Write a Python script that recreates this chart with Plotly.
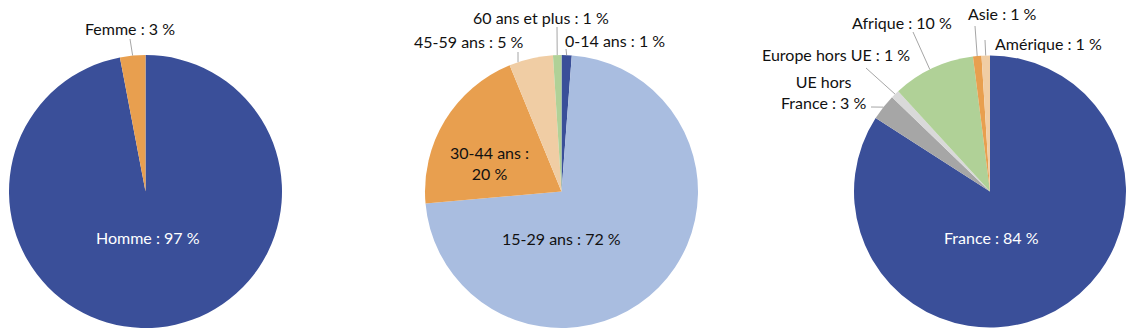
import math
import plotly.graph_objects as go

W, H = 1134, 336

# ---- data ----
sexe_labels = ["Homme", "Femme"]
sexe_values = [97.0, 3.0]

age_labels = ["0-14 ans", "15-29 ans", "30-44 ans", "45-59 ans", "60 ans et plus"]
age_values = [1.2, 72.4, 20.2, 5.2, 1.0]

orig_labels = ["France", "UE hors France", "Europe hors UE", "Afrique", "Asie", "Amérique"]
orig_values = [84.1, 3.1, 1.0, 9.8, 1.0, 1.0]

# ---- styles ----
BLUE = "#3A4F99"
LBLUE = "#A9BDE0"
ORANGE = "#E89F4F"
PEACH = "#F0CDA4"
GREEN = "#B0D197"
GRAY = "#A6A6A6"
LGRAY = "#D9D9D9"
FONT = "Lato"
FSIZE = 16

sexe_colors = [BLUE, ORANGE]
age_colors = [BLUE, LBLUE, ORANGE, PEACH, GREEN]
orig_colors = [BLUE, GRAY, LGRAY, GREEN, ORANGE, PEACH]

# pie geometry in pixels: (cx, cy, r)
pies = [
    (145.5, 191.5, 136.5),
    (561.5, 191.5, 136.5),
    (990.0, 191.5, 136.0),
]

def px(x):
    return x / W

def py(y):
    return 1 - y / H

fig = go.Figure()
datasets = [
    (sexe_labels, sexe_values, sexe_colors),
    (age_labels, age_values, age_colors),
    (orig_labels, orig_values, orig_colors),
]
for (labels, values, colors), (cx, cy, r) in zip(datasets, pies):
    fig.add_trace(go.Pie(
        labels=labels, values=values, sort=False, direction="clockwise",
        rotation=0, textinfo="none", hoverinfo="label+percent",
        marker=dict(colors=colors, line=dict(width=0)),
        domain=dict(x=[px(cx - r), px(cx + r)], y=[py(cy + r), py(cy - r)]),
        showlegend=False,
    ))

def edge_point(values, idx, frac, cx, cy, r):
    tot = sum(values)
    start = sum(values[:idx]) / tot
    f = start + frac * values[idx] / tot
    a = 2 * math.pi * f
    return cx + r * math.sin(a), cy - r * math.cos(a)

annotations = []
shapes = []

# label specs: (dataset, slice, text x, text y, colour, leader start, frac in slice, custom text)
specs = [
    (0, 0, 148, 237, "white", None, 0.5, None),
    (0, 1, 130, 28, "#111111", (130, 39), 0.5, None),
    (1, 1, 561, 238, "#111111", None, 0.5, None),
    (1, 2, 489, 163, "#111111", None, 0.5, "brk"),
    (1, 3, 469, 41, "#111111", (518, 52), 0.2, None),
    (1, 4, 541, 17, "#111111", (557, 27), 0.5, None),
    (1, 0, 615, 40, "#111111", (566, 49), 0.5, None),
    (2, 0, 991, 237, "white", None, 0.5, None),
    (2, 1, 823, 92, "#111111", (871, 107), 0.5, "UE hors<br>France : 3 %"),
    (2, 2, 836, 55, "#111111", (866, 68), 0.5, None),
    (2, 3, 902, 23, "#111111", (913, 32), 0.46, None),
    (2, 4, 1002, 14, "#111111", (975, 26), 0.5, None),
    (2, 5, 1048, 43, "#111111", (985, 40), 0.5, None),
]

for di, si, tx, ty, col, lstart, frac, custom in specs:
    labels, values, _ = datasets[di]
    cx, cy, r = pies[di]
    if custom == "brk":
        txt = f"{labels[si]} :<br>{round(values[si])} %"
    elif custom:
        txt = custom
    else:
        txt = f"{labels[si]} : {round(values[si])} %"
    annotations.append(dict(
        x=px(tx), y=py(ty), xref="paper", yref="paper", text=txt,
        showarrow=False, xanchor="center", yanchor="middle",
        font=dict(family=FONT, size=FSIZE, color=col), align="center",
    ))
    if lstart is not None:
        ex, ey = edge_point(values, si, frac, cx, cy, r)
        shapes.append(dict(
            type="line", xref="paper", yref="paper",
            x0=px(lstart[0]), y0=py(lstart[1]), x1=px(ex), y1=py(ey),
            line=dict(color="#A6A6A6", width=1),
        ))

fig.update_layout(
    width=W, height=H, margin=dict(l=0, r=0, t=0, b=0),
    paper_bgcolor="white", plot_bgcolor="white",
    annotations=annotations, shapes=shapes,
    font=dict(family=FONT),
)

fig.write_html("out.html")
